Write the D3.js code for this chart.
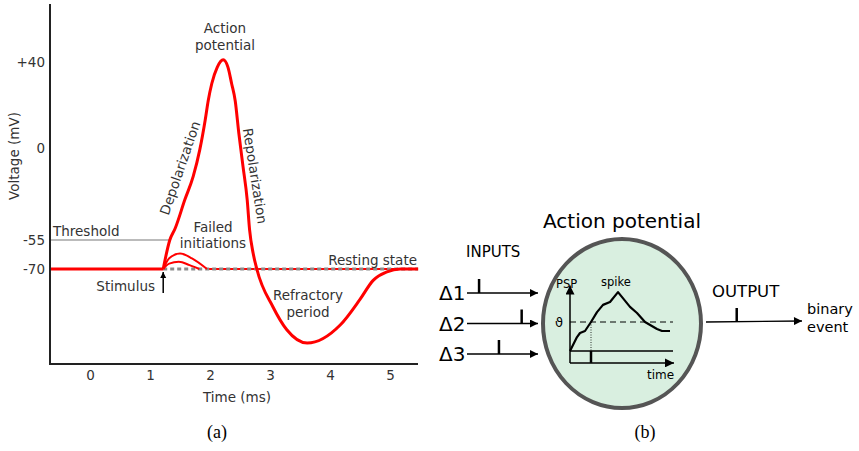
<!DOCTYPE html>
<html>
<head>
<meta charset="utf-8">
<script src="https://cdn.jsdelivr.net/npm/d3@7"></script>
<style>
body { margin: 0; background: #fff; }
text { font-family: "DejaVu Sans", sans-serif; }
</style>
</head>
<body>
<script>
var width = 859,
    height = 451;

// ---- panel (a): action potential trace ----
var timeTicks = [0, 1, 2, 3, 4, 5];
var voltTicks = [40, 0, -55, -70];
var restingV = -70,
    thresholdV = -55,
    stimulusT = 1.22;

// [time (ms), voltage (mV)]
var spike = [[1.22, -70], [1.33, -55], [1.42, -48], [1.58, -31], [1.72, -17], [1.83, -1],
  [1.92, 13], [1.97, 22], [2.03, 30], [2.12, 37.5], [2.22, 41], [2.3, 37.5], [2.36, 30],
  [2.42, 22], [2.48, 7], [2.55, -11], [2.62, -31], [2.66, -49], [2.72, -62], [2.78, -70],
  [3.05, -90], [3.28, -102], [3.62, -109], [4.17, -99.5], [4.5, -86], [4.72, -76],
  [4.95, -71.5], [5.17, -70], [5.47, -70]];
var failedBig = [[1.22, -70], [1.32, -64.5], [1.5, -62], [1.7, -64.5], [1.95, -70]];
var failedSmall = [[1.22, -70], [1.32, -67.2], [1.48, -66.3], [1.66, -68], [1.82, -70]];

// ---- panel (b): neuron diagram ----
var inputRows = ["Δ1", "Δ2", "Δ3"];
var inputSpikes = [1.7, 7.7, 4.5];
// [time, PSP] with threshold at 10
var psp = [[0, 0], [0.7, 4.8], [1.0, 6.2], [1.5, 6.9], [2.1, 10], [2.7, 13.4], [3.3, 15.9],
  [4.0, 16.9], [4.8, 20.3], [6.0, 15.2], [6.7, 13.1], [7.5, 10], [8.7, 7.6], [9.2, 6.9], [10, 6.9]];
var pspThreshold = 10,
    outputSpike = 3.2;

var svg = d3.select("body").append("svg")
    .attr("width", width)
    .attr("height", height);

var defs = svg.append("defs");
function marker(id, w, h) {
  defs.append("marker")
      .attr("id", id)
      .attr("viewBox", "0 0 10 10")
      .attr("refX", 10).attr("refY", 5)
      .attr("markerUnits", "userSpaceOnUse")
      .attr("markerWidth", w).attr("markerHeight", h)
      .attr("orient", "auto")
    .append("path")
      .attr("d", "M0,0L10,5L0,10Z")
      .attr("fill", "#000");
}
marker("arrow", 10, 8);
marker("big", 12, 9);
marker("small", 6, 7);

var x = d3.scaleLinear().domain([-0.667, 5.467]).range([50, 418]);
var y = d3.scaleLinear()
    .domain([-120, -70, -55, 0, 40, 67])
    .range([364, 269, 240, 148, 62, 4]);

var line = d3.line()
    .x(function(d) { return x(d[0]); })
    .y(function(d) { return y(d[1]); });

var ink = "#333";
var fs = "13.5px";

// axes
var yAxis = svg.append("g")
    .attr("transform", "translate(" + x.range()[0] + ",0)")
    .call(d3.axisLeft(y).tickValues(voltTicks).tickSize(0).tickPadding(5)
      .tickFormat(function(d) { return d > 0 ? "+" + d : d; }));
var xAxis = svg.append("g")
    .attr("transform", "translate(0," + y(-120) + ")")
    .call(d3.axisBottom(x).tickValues(timeTicks).tickSize(0).tickPadding(6)
      .tickFormat(d3.format("d")));
[xAxis, yAxis].forEach(function(a) {
  a.select(".domain").remove();
  a.selectAll("text").attr("fill", ink).style("font-size", fs)
    .style("font-family", "DejaVu Sans");
});

svg.append("path")
    .attr("d", "M" + x.range()[0] + "," + y(67) + "V" + y(-120) + "H" + x.range()[1])
    .attr("fill", "none")
    .attr("stroke", "#222")
    .attr("stroke-width", 2);

svg.append("text")
    .attr("transform", "translate(19,156) rotate(-90)")
    .attr("text-anchor", "middle")
    .attr("fill", ink)
    .style("font-size", fs)
    .text("Voltage (mV)");

svg.append("text")
    .attr("x", 237).attr("y", 402)
    .attr("text-anchor", "middle")
    .attr("fill", ink)
    .style("font-size", fs)
    .text("Time (ms)");

// resting state line
svg.append("line")
    .attr("x1", x(1.95)).attr("x2", x(5.2))
    .attr("y1", y(restingV)).attr("y2", y(restingV))
    .attr("stroke", "#f00").attr("stroke-width", 2);
svg.append("line")
    .attr("x1", x(stimulusT)).attr("x2", x(5.467))
    .attr("y1", y(restingV)).attr("y2", y(restingV))
    .attr("stroke", "#8c8c8c").attr("stroke-width", 3)
    .attr("stroke-dasharray", "4,3");

// threshold line
svg.append("line")
    .attr("x1", x.range()[0] + 1).attr("x2", x(1.33))
    .attr("y1", y(thresholdV)).attr("y2", y(thresholdV))
    .attr("stroke", "#bbb").attr("stroke-width", 2);

// failed initiations
svg.selectAll(".failed")
    .data([failedBig, failedSmall])
  .enter().append("path")
    .attr("class", "failed")
    .attr("d", line.curve(d3.curveMonotoneX))
    .attr("fill", "none")
    .attr("stroke", "#f00")
    .attr("stroke-width", 2);

// the spike itself
svg.append("path")
    .datum(spike)
    .attr("d", line.curve(d3.curveMonotoneX))
    .attr("fill", "none")
    .attr("stroke", "#f00")
    .attr("stroke-width", 3);
svg.append("line")
    .attr("x1", x.range()[0] + 1).attr("x2", x(stimulusT))
    .attr("y1", y(restingV)).attr("y2", y(restingV))
    .attr("stroke", "#f00").attr("stroke-width", 3);

// stimulus arrow
svg.append("line")
    .attr("x1", x(stimulusT)).attr("x2", x(stimulusT))
    .attr("y1", 293).attr("y2", 272)
    .attr("stroke", "#000").attr("stroke-width", 1.5)
    .attr("marker-end", "url(#small)");

var labels = [
  {t: "Threshold", x: 53, y: 236, a: "start"},
  {t: "Resting state", x: 417, y: 265, a: "end"},
  {t: "Stimulus", x: 155, y: 291, a: "end"},
  {t: "Failed", x: 213, y: 232, a: "middle"},
  {t: "initiations", x: 213, y: 248, a: "middle"},
  {t: "Refractory", x: 308, y: 300, a: "middle"},
  {t: "period", x: 308, y: 317, a: "middle"},
  {t: "Action", x: 225, y: 33, a: "middle"},
  {t: "potential", x: 225, y: 50, a: "middle"}
];
svg.selectAll(".lbl")
    .data(labels)
  .enter().append("text")
    .attr("class", "lbl")
    .attr("x", function(d) { return d.x; })
    .attr("y", function(d) { return d.y; })
    .attr("text-anchor", function(d) { return d.a; })
    .attr("fill", ink)
    .style("font-size", fs)
    .text(function(d) { return d.t; });

svg.append("text")
    .attr("transform", "translate(180,168) rotate(-71)")
    .attr("text-anchor", "middle")
    .attr("dy", "0.35em")
    .attr("fill", ink)
    .style("font-size", fs)
    .text("Depolarization");
svg.append("text")
    .attr("transform", "translate(255,176) rotate(81)")
    .attr("text-anchor", "middle")
    .attr("dy", "0.35em")
    .attr("fill", ink)
    .style("font-size", fs)
    .text("Repolarization");

svg.append("text")
    .attr("x", 217).attr("y", 438)
    .attr("text-anchor", "middle")
    .style("font-family", "Liberation Serif")
    .style("font-size", "18px")
    .text("(a)");

// ---- panel (b) ----
svg.append("text")
    .attr("x", 622).attr("y", 228)
    .attr("text-anchor", "middle")
    .style("font-size", "20px")
    .text("Action potential");

svg.append("ellipse")
    .attr("cx", 622).attr("cy", 323.5)
    .attr("rx", 79).attr("ry", 84.5)
    .attr("fill", "#d9efe0")
    .attr("stroke", "#555")
    .attr("stroke-width", 4);

svg.append("text")
    .attr("x", 466).attr("y", 257)
    .style("font-size", "15px")
    .text("INPUTS");

var row = d3.scalePoint().domain(inputRows).range([293, 354]);
var inX = d3.scaleLinear().domain([0, 10]).range([467, 538]);

var inputs = svg.selectAll(".input")
    .data(inputRows)
  .enter().append("g")
    .attr("class", "input");
inputs.append("text")
    .attr("x", 439)
    .attr("y", function(d) { return row(d) + 7; })
    .style("font-size", "20px")
    .text(function(d) { return d; });
inputs.append("line")
    .attr("x1", inX(0)).attr("x2", inX(10))
    .attr("y1", function(d) { return row(d); })
    .attr("y2", function(d) { return row(d); })
    .attr("stroke", "#000").attr("stroke-width", 1.3)
    .attr("marker-end", "url(#arrow)");
inputs.append("line")
    .attr("x1", function(d, i) { return inX(inputSpikes[i]); })
    .attr("x2", function(d, i) { return inX(inputSpikes[i]); })
    .attr("y1", function(d) { return row(d); })
    .attr("y2", function(d) { return row(d) - 14; })
    .attr("stroke", "#000").attr("stroke-width", 2.5);

// inner PSP plot
var px = d3.scaleLinear().domain([0, 10]).range([570, 670]);
var py = d3.scaleLinear().domain([0, 10]).range([351, 322]);

svg.append("line")
    .attr("x1", px(0)).attr("x2", px(0))
    .attr("y1", py(-4.1)).attr("y2", py(22.6))
    .attr("stroke", "#000").attr("stroke-width", 1.5)
    .attr("marker-end", "url(#big)");
svg.append("line")
    .attr("x1", px(0)).attr("x2", px(10.4))
    .attr("y1", py(-4.1)).attr("y2", py(-4.1))
    .attr("stroke", "#000").attr("stroke-width", 1.5)
    .attr("marker-end", "url(#big)");
svg.append("line")
    .attr("x1", px(0)).attr("x2", px(10.3))
    .attr("y1", py(0)).attr("y2", py(0))
    .attr("stroke", "#000").attr("stroke-width", 1.5);
svg.append("line")
    .attr("x1", px(0)).attr("x2", px(10.3))
    .attr("y1", py(pspThreshold)).attr("y2", py(pspThreshold))
    .attr("stroke", "#000").attr("stroke-width", 1)
    .attr("stroke-dasharray", "6,4");
svg.append("line")
    .attr("x1", px(2.1)).attr("x2", px(2.1))
    .attr("y1", py(pspThreshold)).attr("y2", py(0))
    .attr("stroke", "#000").attr("stroke-width", 0.8)
    .attr("stroke-dasharray", "1,1.5");
svg.append("line")
    .attr("x1", px(2.1)).attr("x2", px(2.1))
    .attr("y1", py(0)).attr("y2", py(-4.1))
    .attr("stroke", "#000").attr("stroke-width", 2.5);

svg.append("path")
    .datum(psp)
    .attr("d", d3.line()
      .x(function(d) { return px(d[0]); })
      .y(function(d) { return py(d[1]); }))
    .attr("fill", "none")
    .attr("stroke", "#000")
    .attr("stroke-width", 2.2)
    .attr("stroke-linejoin", "round");

svg.append("text").attr("x", 556).attr("y", 288)
    .style("font-size", "11.5px").text("PSP");
svg.append("text").attr("x", 601).attr("y", 286)
    .style("font-size", "11.5px").text("spike");
svg.append("text").attr("x", 647).attr("y", 379)
    .style("font-size", "12px").text("time");
svg.append("text").attr("x", 559).attr("y", py(pspThreshold) + 5)
    .attr("text-anchor", "middle")
    .style("font-size", "13px").text("ϑ");

// output
var outX = d3.scaleLinear().domain([0, 10]).range([706, 802]);
svg.append("text")
    .attr("x", 712).attr("y", 297)
    .style("font-size", "16.5px")
    .text("OUTPUT");
svg.append("line")
    .attr("x1", outX(0)).attr("x2", outX(10))
    .attr("y1", 322).attr("y2", 321)
    .attr("stroke", "#000").attr("stroke-width", 1.3)
    .attr("marker-end", "url(#arrow)");
svg.append("line")
    .attr("x1", outX(outputSpike)).attr("x2", outX(outputSpike))
    .attr("y1", 322).attr("y2", 308)
    .attr("stroke", "#000").attr("stroke-width", 2.5);
svg.append("text").attr("x", 807).attr("y", 314)
    .style("font-size", "14.5px").text("binary");
svg.append("text").attr("x", 807).attr("y", 332)
    .style("font-size", "14.5px").text("event");

svg.append("text")
    .attr("x", 645).attr("y", 438)
    .attr("text-anchor", "middle")
    .style("font-family", "Liberation Serif")
    .style("font-size", "18px")
    .text("(b)");
</script>
</body>
</html>
